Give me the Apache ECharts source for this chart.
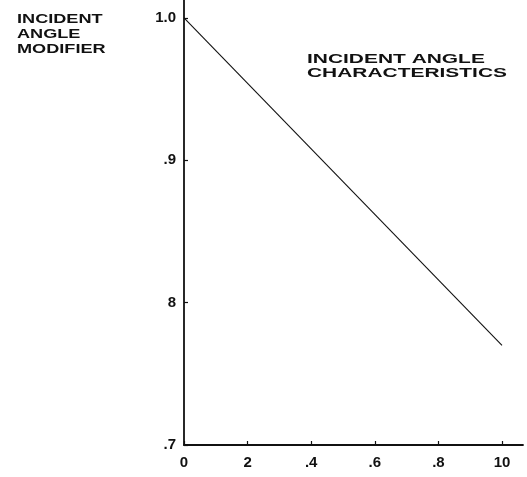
<!DOCTYPE html>
<html>
<head>
<meta charset="utf-8">
<script src="https://cdn.jsdelivr.net/npm/echarts@6/dist/echarts.min.js"></script>
<style>
  html, body { margin: 0; padding: 0; background: #fff; }
  #chart { width: 527px; height: 477px; }
</style>
</head>
<body>
<div id="chart"></div>
<script>
// values
const xTicks = [0, 0.2, 0.4, 0.6, 0.8, 1.0];
const xTickLabels = ['0', '2', '.4', '.6', '.8', '10'];
const yTicks = [0.7, 0.8, 0.9, 1.0];
const yTickLabels = ['.7', '8', '.9', '1.0'];
const modifier = [[0, 1.0], [1.0, 0.77]];
const yName = ['INCIDENT', 'ANGLE', 'MODIFIER'];
const titleLines = ['INCIDENT ANGLE', 'CHARACTERISTICS'];

const font = 'Liberation Sans, Arial, sans-serif';

function pick(ticks, labels, v) {
  for (let i = 0; i < ticks.length; i++) {
    if (Math.abs(ticks[i] - v) < 1e-6) return labels[i];
  }
  return '';
}

// the scanned lettering is wide, so stretch it horizontally
function wideText(lines, x, y0, step, size, sx) {
  return lines.map((t, i) => ({
    type: 'text',
    x: x, y: y0 + i * step,
    scaleX: sx,
    style: {
      text: t,
      fill: '#111',
      font: 'bold ' + size + 'px ' + font,
      verticalAlign: 'top'
    }
  }));
}

const chart = echarts.init(document.getElementById('chart'));
chart.setOption({
  animation: false,
  backgroundColor: '#fff',
  grid: { left: 184, right: 4, top: 0, bottom: 32 },
  graphic: [
    ...wideText(yName, 17, 13, 15, 12.5, 1.45),
    ...wideText(titleLines, 307, 52, 14, 13.5, 1.55)
  ],
  xAxis: {
    type: 'value',
    min: 0, max: 1.066, interval: 0.2,
    splitLine: { show: false },
    axisLine: { lineStyle: { color: '#111', width: 1.8 } },
    axisTick: { inside: true, length: 4, lineStyle: { color: '#111', width: 1.2 } },
    axisLabel: {
      showMaxLabel: false,
      margin: 10,
      fontFamily: font, fontSize: 15, fontWeight: 'bold', color: '#111',
      formatter: v => pick(xTicks, xTickLabels, v)
    }
  },
  yAxis: {
    type: 'value',
    min: 0.7, max: 1.0126, interval: 0.1,
    splitLine: { show: false },
    axisLine: { lineStyle: { color: '#111', width: 1.8 } },
    axisTick: { inside: true, length: 4, lineStyle: { color: '#111', width: 1.2 } },
    axisLabel: {
      showMaxLabel: false,
      margin: 8,
      fontFamily: font, fontSize: 15, fontWeight: 'bold', color: '#111',
      formatter: v => pick(yTicks, yTickLabels, v)
    }
  },
  series: [{
    type: 'line',
    data: modifier,
    showSymbol: false,
    lineStyle: { color: '#111', width: 1.1 }
  }]
});
</script>
</body>
</html>
